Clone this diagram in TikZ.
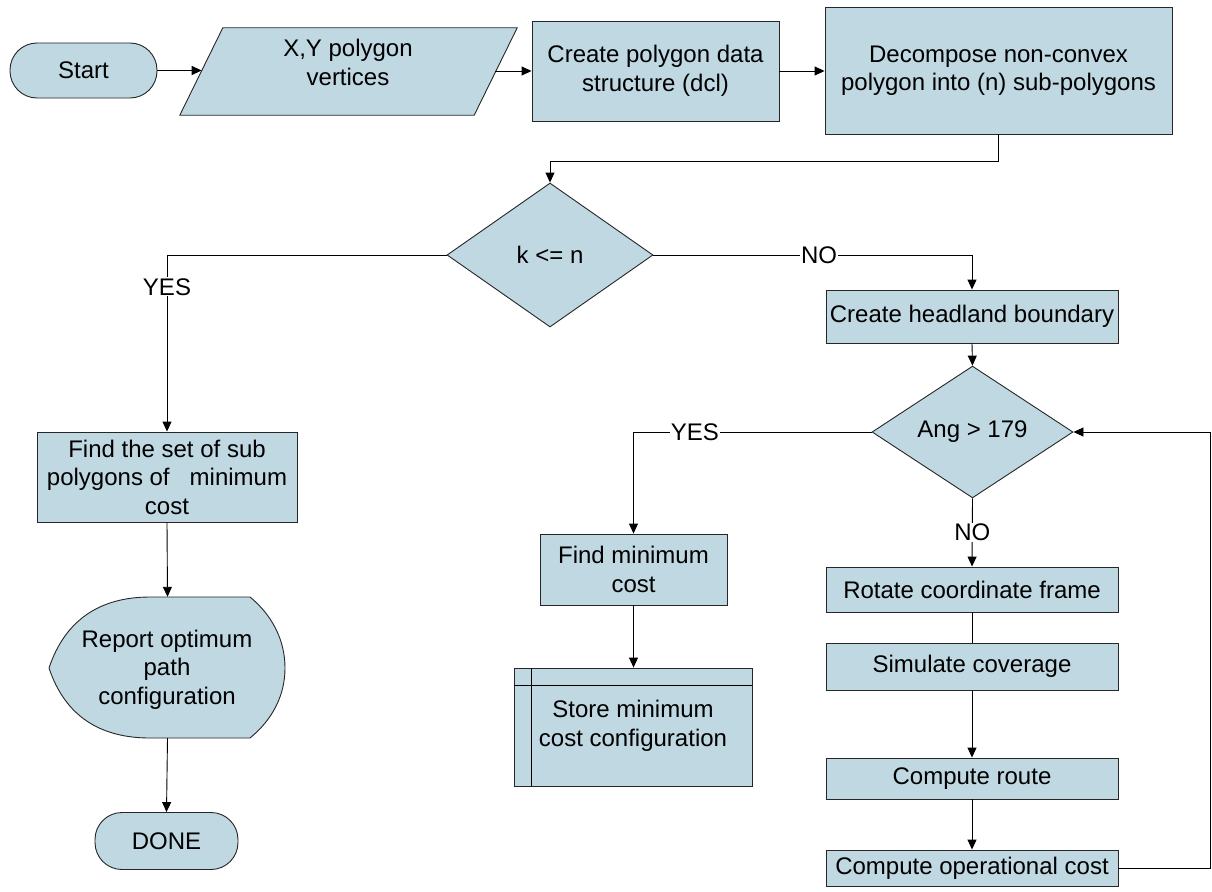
\documentclass[tikz,border=0pt]{standalone}
\usepackage{fontspec}
\setmainfont{Liberation Sans}
\usetikzlibrary{shapes.geometric,arrows.meta,backgrounds}
\definecolor{boxfill}{HTML}{BFD8E2}
\begin{document}
\begin{tikzpicture}[x=1pt,y=1pt,
  every node/.style={font=\fontsize{24}{28.5}\selectfont, align=center, inner sep=0pt},
  base/.style={draw=black!85, fill=boxfill, line width=0.9pt},
  proc/.style={base, rectangle},
  term/.style={base, rectangle, rounded corners=27pt},
  decis/.style={base, diamond},
  arr/.style={-{Triangle[length=10pt,width=9pt]}, line width=0.9pt},
  link/.style={line width=0.9pt},
  lab/.style={fill=white, inner sep=1pt}]
\useasboundingbox (0,0) rectangle (1212,-891);

% top row
\node[term, minimum width=147, minimum height=55] (start) at (83.5,-70.5) {Start};
\node[minimum width=337, minimum height=87] (xy) at (348.5,-71.5) {};
\begin{scope}[on background layer]
  \draw[base] ([xshift=43]xy.north west) -- (xy.north east) -- ([xshift=-43]xy.south east) -- (xy.south west) -- cycle;
\end{scope}
\node (xytext) at (348,-62.5) {X,Y polygon\\vertices};
\coordinate (xyin) at (201.7,-70.5);
\coordinate (xyout) at (495,-71);
\node[proc, minimum width=247, minimum height=100] (dcl) at (655.5,-71) {Create polygon data\\structure (dcl)};
\node[proc, minimum width=347, minimum height=127] (dec) at (998.5,-70.5) {Decompose non-convex\\polygon into (n) sub-polygons};

% decision k<=n
\node[decis, minimum width=206, minimum height=144] (kn) at (550,-255) {k <= n};

% right column
\node[proc, minimum width=292, minimum height=53] (head) at (972,-316.5) {Create headland boundary};
\node[decis, minimum width=201, minimum height=110] (ang) at (972.5,-432) {Ang > 179};
\node[proc, minimum width=292, minimum height=45] (rot) at (972,-589.5) {Rotate coordinate frame};
\node[proc, minimum width=292, minimum height=47] (sim) at (972,-666.5) {Simulate coverage};
\node[proc, minimum width=292, minimum height=41] (route) at (972,-778.5) {Compute route};
\node[proc, minimum width=292, minimum height=36] (opcost) at (972,-868) {Compute operational cost};

% middle column
\node[proc, minimum width=187, minimum height=71] (findmin) at (633.5,-569.5) {Find minimum\\cost};
\node[proc, minimum width=238, minimum height=118] (store) at (633,-727) {};
\draw[link] ([xshift=18]store.north west) -- ([xshift=18]store.south west);
\draw[link] ([yshift=-18]store.north west) -- ([yshift=-18]store.north east);
\node (storetext) at (633,-726) {Store minimum\\cost configuration};

% left column
\node[proc, minimum width=260, minimum height=90] (findset) at (167,-477) {Find the set of sub\\polygons of\ \ \ minimum\\cost};
\node[minimum width=235, minimum height=141] (report) at (167.5,-667.5) {};
\begin{scope}[on background layer]
  \draw[base] (49,-668) .. controls (65,-620) and (100,-597) .. (150,-597)
    -- (250,-597) .. controls (272,-615) and (285,-640) .. (285,-668)
    .. controls (285,-696) and (272,-720) .. (250,-738)
    -- (150,-738) .. controls (100,-738) and (65,-716) .. (49,-668) -- cycle;
\end{scope}
\node (reporttext) at (167,-669.5) {Report optimum\\path\\configuration};
\node[term, minimum width=143, minimum height=57] (done) at (166.5,-841) {DONE};

% connectors
\draw[arr] (start.east) -- (xyin);
\draw[arr] (xyout) -- (dcl.west);
\draw[arr] (dcl.east) -- (dcl.east -| dec.west);
\draw[arr] (dec.south) -- ++(0,-26.5) -| (kn.north);
\draw[arr] (kn.west) -| node[lab, pos=0.59] {YES} (findset.north);
\draw[arr] (kn.east) -| node[lab, pos=0.26] {NO} (head.north);
\draw[arr] (head.south) -- (ang.north);
\draw[arr] (ang.west) -| node[lab, pos=0.371] {YES} (findmin.north);
\draw[arr] (ang.south) -- node[lab] {NO} (rot.north);
\draw[link] (rot.south) -- (sim.north);
\draw[arr] (sim.south) -- (route.north);
\draw[arr] (route.south) -- (opcost.north);
\draw[arr] (opcost.east) -- ++(92,0) |- (ang.east);
\draw[arr] (findmin.south) -- (store.north -| findmin.south);
\draw[arr] (findset.south) -- (report.north);
\draw[arr] (report.south) -- (done.north);
\end{tikzpicture}
\end{document}
